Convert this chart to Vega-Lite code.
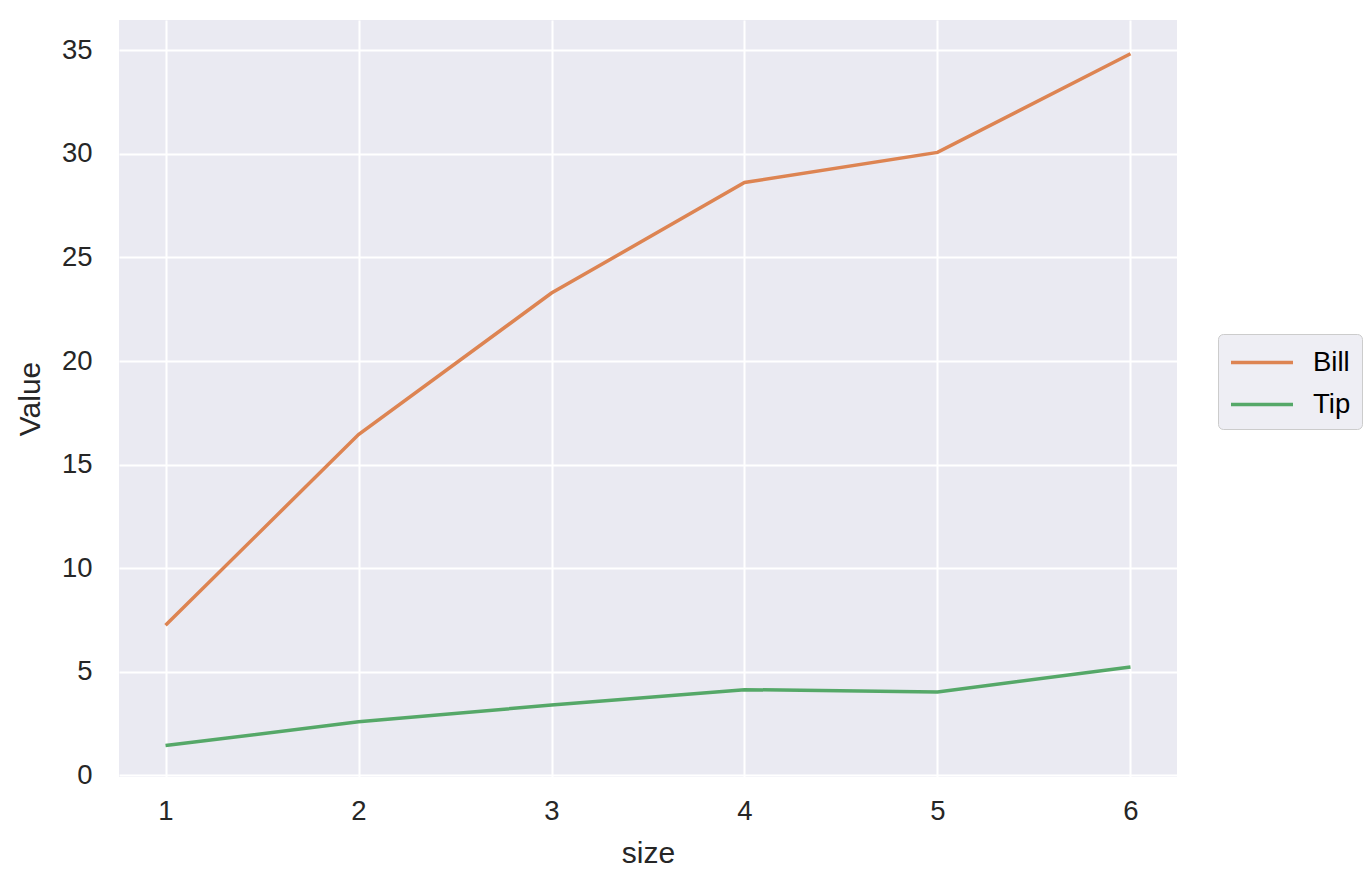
{
  "$schema": "https://vega.github.io/schema/vega-lite/v6.json",
  "autosize": {"type": "none"},
  "padding": {"left": 119, "top": 20, "right": 191, "bottom": 113},
  "width": 1058,
  "height": 757,
  "background": "white",
  "config": {
    "view": {"fill": "#eaeaf2", "stroke": null},
    "font": "Liberation Sans",
    "axis": {
      "domain": false,
      "ticks": false,
      "grid": true,
      "gridColor": "white",
      "gridWidth": 2,
      "labelFont": "Liberation Sans",
      "labelFontSize": 27.5,
      "labelColor": "#262626",
      "titleFont": "Liberation Sans",
      "titleFontSize": 30,
      "titleFontWeight": "normal",
      "titleColor": "#262626"
    }
  },
  "data": {
    "values": [
      {"size": 1, "variable": "Bill", "value": 7.2425},
      {"size": 2, "variable": "Bill", "value": 16.448},
      {"size": 3, "variable": "Bill", "value": 23.278},
      {"size": 4, "variable": "Bill", "value": 28.614},
      {"size": 5, "variable": "Bill", "value": 30.068},
      {"size": 6, "variable": "Bill", "value": 34.83},
      {"size": 1, "variable": "Tip", "value": 1.4375},
      {"size": 2, "variable": "Tip", "value": 2.582},
      {"size": 3, "variable": "Tip", "value": 3.393},
      {"size": 4, "variable": "Tip", "value": 4.136},
      {"size": 5, "variable": "Tip", "value": 4.028},
      {"size": 6, "variable": "Tip", "value": 5.225}
    ]
  },
  "mark": {"type": "line", "strokeWidth": 3.5},
  "encoding": {
    "x": {
      "field": "size",
      "type": "quantitative",
      "title": "size",
      "scale": {"domain": [0.759, 6.241], "nice": false, "zero": false},
      "axis": {"values": [1, 2, 3, 4, 5, 6], "labelPadding": 20, "titlePadding": 14}
    },
    "y": {
      "field": "value",
      "type": "quantitative",
      "title": "Value",
      "scale": {"domain": [-0.08, 36.46], "nice": false, "zero": false},
      "axis": {"values": [0, 5, 10, 15, 20, 25, 30, 35], "labelPadding": 27, "titlePadding": 16}
    },
    "color": {
      "field": "variable",
      "type": "nominal",
      "scale": {"domain": ["Bill", "Tip"], "range": ["#dd8452", "#55a868"]},
      "legend": {
        "title": null,
        "orient": "none",
        "legendX": 1099,
        "legendY": 314,
        "fillColor": "#eeeef4",
        "strokeColor": "#cccccc",
        "cornerRadius": 5,
        "padding": 11,
        "symbolType": "M-1,0H3",
        "symbolSize": 961,
        "symbolStrokeWidth": 3.5,
        "labelOffset": 49,
        "labelFont": "Liberation Sans",
        "labelFontSize": 27.5,
        "labelColor": "#000000",
        "rowPadding": 11
      }
    }
  }
}
